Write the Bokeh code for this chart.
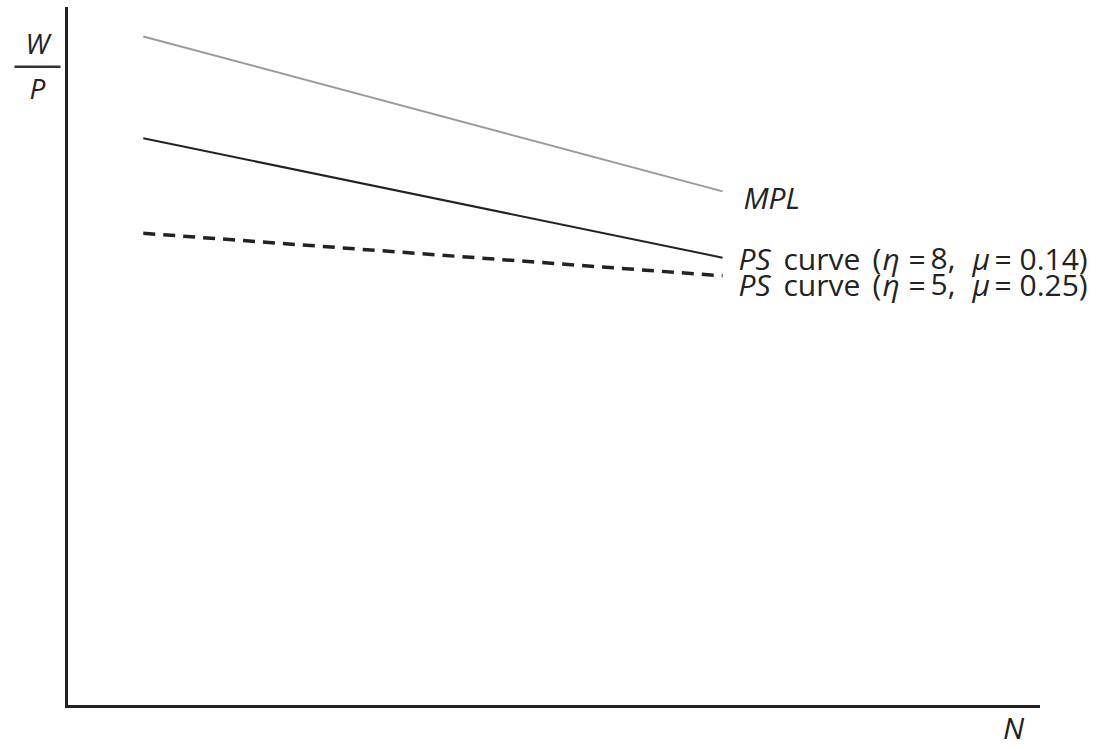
from bokeh.plotting import figure
from bokeh.models import Label, Range1d, LinearAxis, FixedTicker, BoxAnnotation
from bokeh.embed import file_html
from bokeh.resources import INLINE

# Data (data space: x 0..100, y 0..100)
x_vals = [7.9, 67.5]
mpl_y = [96.0, 73.8]
ps1_y = [81.4, 64.3]
ps2_y = [67.8, 61.7]
ps1_params = ("8,", "0.14)")
ps2_params = ("5,", "0.25)")

W, H = 1110, 748
X0, X1 = 66.0, 1038.0   # pixel positions of data x 0 and 100
Y0, Y1 = 706.0, 8.0     # pixel positions of data y 0 and 100
sx = (X1 - X0) / 100.0
sy = (Y0 - Y1) / 100.0
TXT_SHIFT = 10.5        # rendered baseline sits lower than requested

p = figure(width=W, height=H, output_backend="svg", toolbar_location=None,
           x_range=Range1d(-X0 / sx, (W - X0) / sx),
           y_range=Range1d(-(H - Y0) / sy, 100 + Y1 / sy),
           x_axis_location=None, y_axis_location=None,
           min_border=0, min_border_left=0, min_border_right=0,
           min_border_top=0, min_border_bottom=0)
p.outline_line_color = None
p.grid.visible = False

for loc in ("below", "left"):
    ax = LinearAxis(fixed_location=0, bounds=(0, 100), ticker=FixedTicker(ticks=[]))
    ax.axis_line_width = 3
    ax.axis_line_color = "#222222"
    ax.axis_line_cap = "square"
    ax.major_tick_line_color = None
    ax.minor_tick_line_color = None
    ax.major_tick_out = 0
    ax.major_tick_in = 0
    ax.major_label_text_font_size = "0px"
    p.add_layout(ax, loc)

p.line(x_vals, mpl_y, line_color="#9a9a9a", line_width=2)
p.line(x_vals, ps1_y, line_color="#222222", line_width=2)
p.line(x_vals, ps2_y, line_color="#222222", line_width=3.5, line_dash="12 8")

FONT = "Open Sans"
FS = "30px"

def lab(x, y, text, px, baseline_px, italic=False, fs=FS, align="left"):
    ax_px = X0 + x * sx
    ay_px = Y0 - y * sy
    p.add_layout(Label(x=x, y=y, text=text, x_offset=px - ax_px,
                       y_offset=ay_px - (baseline_px - TXT_SHIFT),
                       text_font=FONT, text_font_size=fs,
                       text_font_style="italic" if italic else "normal",
                       text_color="#222222", text_baseline="alphabetic",
                       text_align=align))

lab(x_vals[1], mpl_y[1], "MPL", 743, 207, italic=True)

def ps_label(y_end, params, base):
    pieces = [("PS", 738, True), ("curve", 783, False), ("(", 872, False),
              ("η", 882, True), ("=", 908, False), (params[0], 930, False),
              ("μ", 972, True), ("=", 994, False), (params[1], 1019, False)]
    for t, xp, it in pieces:
        lab(x_vals[1], y_end, t, xp, base, italic=it)

ps_label(ps1_y[1], ps1_params, 268)
ps_label(ps2_y[1], ps2_params, 294)

def slab(px, base, text, fs, italic=True):
    p.add_layout(Label(x=px, y=H - (base - TXT_SHIFT), x_units="screen", y_units="screen",
                       text=text, text_font=FONT, text_font_size=fs,
                       text_font_style="italic" if italic else "normal",
                       text_color="#222222", text_baseline="alphabetic", text_align="center"))

slab(1013, 737, "N", "30px")
slab(37, 53, "W", "28px")
slab(37, 98, "P", "28px")
p.add_layout(BoxAnnotation(left=14, right=60, top=H - 65, bottom=H - 67.5,
                           left_units="screen", right_units="screen",
                           top_units="screen", bottom_units="screen",
                           fill_color="#333333", fill_alpha=1.0, line_color=None))

open("out.html", "w").write(file_html(p, INLINE))
